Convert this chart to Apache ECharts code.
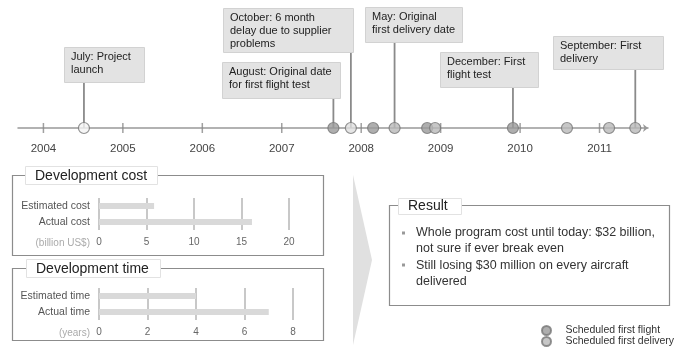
<!DOCTYPE html>
<html>
<head>
<meta charset="utf-8">
<script src="https://cdn.jsdelivr.net/npm/echarts@6/dist/echarts.min.js"></script>
<style>
  html, body { margin: 0; padding: 0; background: #fff; }
  #chart { width: 682px; height: 350px; }
</style>
</head>
<body>
<div id="chart"></div>
<script>
// Timeline data (decimal years)
const years = [2004, 2005, 2006, 2007, 2008, 2009, 2010, 2011];
const flightDates = [2007.65, 2008.15, 2008.83, 2009.91];
const deliveryDates = [2008.42, 2008.93, 2010.59, 2011.12, 2011.45];
const milestoneDates = [2004.51, 2007.87];
const calloutDates = [2004.51, 2007.87, 2007.65, 2008.42, 2009.91, 2011.45];
const calloutTexts = [
  'July: Project\nlaunch',
  'October: 6 month\ndelay due to supplier\nproblems',
  'August: Original date\nfor first flight test',
  'May: Original\nfirst delivery date',
  'December: First\nflight test',
  'September: First\ndelivery'
];

// Development cost (billion US$) and time (years)
const costCategories = ['Estimated cost', 'Actual cost'];
const costValues = [5.8, 16.1];
const timeCategories = ['Estimated time', 'Actual time'];
const timeValues = [4, 7];

const resultBullets = [
  'Whole program cost until today: $32 billion,\nnot sure if ever break even',
  'Still losing $30 million on every aircraft\ndelivered'
];

// Callout box placement (pixels)
const calloutBoxes = [
  { x: 64,  y: 47, w: 80,  h: 35 },
  { x: 223, y: 8,  w: 130, h: 44 },
  { x: 222, y: 62, w: 118, h: 36 },
  { x: 365, y: 7,  w: 97,  h: 35 },
  { x: 440, y: 52, w: 98,  h: 35 },
  { x: 553, y: 36, w: 110, h: 33 }
];

const FONT = '"Liberation Sans", Arial, sans-serif';
const circleBorder = { borderColor: '#777', borderWidth: 1.2 };

const chart = echarts.init(document.getElementById('chart'), null, { renderer: 'canvas' });

const barAxisX = (max, interval, idx) => ({
  type: 'value', gridIndex: idx, min: 0, max: max, interval: interval,
  axisLine: { show: false }, axisTick: { show: false },
  splitLine: { show: true, lineStyle: { color: '#c8c8c8', width: 2 } },
  axisLabel: { color: '#666', fontSize: 10, margin: 7, fontFamily: FONT }
});
const barAxisY = (cats, idx) => ({
  type: 'category', gridIndex: idx, data: cats, inverse: true,
  axisLine: { show: false }, axisTick: { show: false }, splitLine: { show: false },
  axisLabel: { color: '#555', fontSize: 10.5, margin: 9, fontFamily: FONT }
});

const graphics = [
  // left panels
  { type: 'rect', z: 0, shape: { x: 12.5, y: 175.5, width: 311, height: 80 }, style: { fill: 'none', stroke: '#8c8c8c', lineWidth: 1.2 } },
  { type: 'rect', z: 1, shape: { x: 25.5, y: 166.5, width: 132, height: 18 }, style: { fill: '#fff', stroke: '#e2e2e2', lineWidth: 1 } },
  { type: 'text', z: 2, x: 35, y: 176, style: { text: 'Development cost', fill: '#222', font: '14px ' + FONT, verticalAlign: 'middle' } },
  { type: 'text', z: 2, x: 90, y: 243, style: { text: '(billion US$)', fill: '#aaa', font: '10px ' + FONT, align: 'right', verticalAlign: 'middle' } },
  { type: 'rect', z: 0, shape: { x: 12.5, y: 268.5, width: 311, height: 72 }, style: { fill: 'none', stroke: '#8c8c8c', lineWidth: 1.2 } },
  { type: 'rect', z: 1, shape: { x: 26.5, y: 259.5, width: 134, height: 18 }, style: { fill: '#fff', stroke: '#e2e2e2', lineWidth: 1 } },
  { type: 'text', z: 2, x: 36, y: 269, style: { text: 'Development time', fill: '#222', font: '14px ' + FONT, verticalAlign: 'middle' } },
  { type: 'text', z: 2, x: 90, y: 333, style: { text: '(years)', fill: '#aaa', font: '10px ' + FONT, align: 'right', verticalAlign: 'middle' } },
  // chevron
  { type: 'polygon', z: 0, shape: { points: [[353, 175], [372, 260], [353, 345]] }, style: { fill: '#e0e0e0' } },
  // result panel
  { type: 'rect', z: 0, shape: { x: 389.5, y: 205.5, width: 280, height: 100 }, style: { fill: 'none', stroke: '#8c8c8c', lineWidth: 1.2 } },
  { type: 'rect', z: 1, shape: { x: 398.5, y: 198.5, width: 63, height: 16 }, style: { fill: '#fff', stroke: '#e2e2e2', lineWidth: 1 } },
  { type: 'text', z: 2, x: 408, y: 206, style: { text: 'Result', fill: '#222', font: '14px ' + FONT, verticalAlign: 'middle' } },
  { type: 'rect', z: 2, shape: { x: 402, y: 231.5, width: 3, height: 3 }, style: { fill: '#999' } },
  { type: 'text', z: 2, x: 416, y: 225, style: { text: resultBullets[0], fill: '#333', font: '12.5px ' + FONT, lineHeight: 16, verticalAlign: 'top' } },
  { type: 'rect', z: 2, shape: { x: 402, y: 263.5, width: 3, height: 3 }, style: { fill: '#999' } },
  { type: 'text', z: 2, x: 416, y: 257, style: { text: resultBullets[1], fill: '#333', font: '12.5px ' + FONT, lineHeight: 16.5, verticalAlign: 'top' } }
];

const option = {
  animation: false,
  backgroundColor: '#fff',
  textStyle: { fontFamily: FONT },
  legend: {
    data: ['Scheduled first flight', 'Scheduled first delivery'],
    orient: 'vertical', left: 541, top: 325, padding: 0,
    itemWidth: 10, itemHeight: 9, itemGap: 0, icon: 'circle',
    selectedMode: false,
    textStyle: { fontSize: 10.5, color: '#333', padding: [0, 0, 0, 9], lineHeight: 9, fontFamily: FONT }
  },
  grid: [
    { left: 18, width: 630, top: 0, height: 128, outerBoundsMode: 'none' },
    { left: 99, width: 190, top: 198, height: 32, outerBoundsMode: 'none' },
    { left: 99, width: 194, top: 288, height: 32, outerBoundsMode: 'none' }
  ],
  xAxis: [
    {
      type: 'value', gridIndex: 0, min: 2003.68, max: 2011.61,
      axisLine: { show: true, symbol: ['none', 'arrow'], symbolSize: [6, 5], lineStyle: { color: '#999', width: 1.5 } },
      axisTick: { show: false }, splitLine: { show: false },
      axisLabel: { customValues: years, formatter: v => String(Math.round(v)), color: '#444', fontSize: 11.5, margin: 15, fontFamily: FONT }
    },
    barAxisX(20, 5, 1),
    barAxisX(8, 2, 2)
  ],
  yAxis: [
    { type: 'value', gridIndex: 0, min: 0, max: 1, show: false },
    barAxisY(costCategories, 1),
    barAxisY(timeCategories, 2)
  ],
  graphic: { elements: graphics },
  series: [
    {
      type: 'custom', name: 'callouts', xAxisIndex: 0, yAxisIndex: 0, z: 1, silent: true, clip: false,
      data: calloutDates.map(d => [d, 0]),
      renderItem: function (params, api) {
        const i = params.dataIndex;
        const p = api.coord([api.value(0), 0]);
        const b = calloutBoxes[i];
        return {
          type: 'group',
          children: [
            { type: 'line', shape: { x1: p[0], y1: b.y + b.h, x2: p[0], y2: p[1] }, style: { stroke: '#8a8a8a', lineWidth: 1.8 } },
            { type: 'rect', shape: { x: b.x + 0.5, y: b.y + 0.5, width: b.w, height: b.h }, style: { fill: '#e3e3e3', stroke: '#d2d2d2', lineWidth: 1 } },
            { type: 'text', x: b.x + 7, y: b.y + 3, style: { text: calloutTexts[i], fill: '#222', font: '11px ' + FONT, lineHeight: 13, verticalAlign: 'top' } }
          ]
        };
      }
    },
    {
      type: 'scatter', name: 'yearTicks', xAxisIndex: 0, yAxisIndex: 0, z: 2, silent: true, clip: false,
      symbol: 'rect', symbolSize: [1.5, 10],
      itemStyle: { color: '#888' },
      data: years.map(y => [y, 0])
    },
    {
      type: 'scatter', name: 'milestones', xAxisIndex: 0, yAxisIndex: 0, z: 3, silent: true, clip: false,
      symbol: 'circle', symbolSize: 11,
      data: [
        { value: [milestoneDates[0], 0], itemStyle: Object.assign({ color: '#f4f4f4' }, circleBorder) },
        { value: [milestoneDates[1], 0], itemStyle: Object.assign({ color: '#dedede' }, circleBorder) }
      ]
    },
    {
      type: 'scatter', name: 'Scheduled first flight', xAxisIndex: 0, yAxisIndex: 0, z: 3, silent: true, clip: false,
      symbol: 'circle', symbolSize: 11,
      itemStyle: Object.assign({ color: '#9a9a9a' }, circleBorder),
      data: flightDates.map(d => [d, 0])
    },
    {
      type: 'scatter', name: 'Scheduled first delivery', xAxisIndex: 0, yAxisIndex: 0, z: 4, silent: true, clip: false,
      symbol: 'circle', symbolSize: 11,
      itemStyle: Object.assign({ color: '#b9b9b9' }, circleBorder),
      data: deliveryDates.map(d => [d, 0])
    },
    {
      type: 'bar', name: 'Development cost', xAxisIndex: 1, yAxisIndex: 1, barWidth: 6, silent: true,
      itemStyle: { color: '#d9d9d9' },
      data: costValues
    },
    {
      type: 'bar', name: 'Development time', xAxisIndex: 2, yAxisIndex: 2, barWidth: 6, silent: true,
      itemStyle: { color: '#d9d9d9' },
      data: timeValues
    }
  ]
};

chart.setOption(option);
</script>
</body>
</html>
